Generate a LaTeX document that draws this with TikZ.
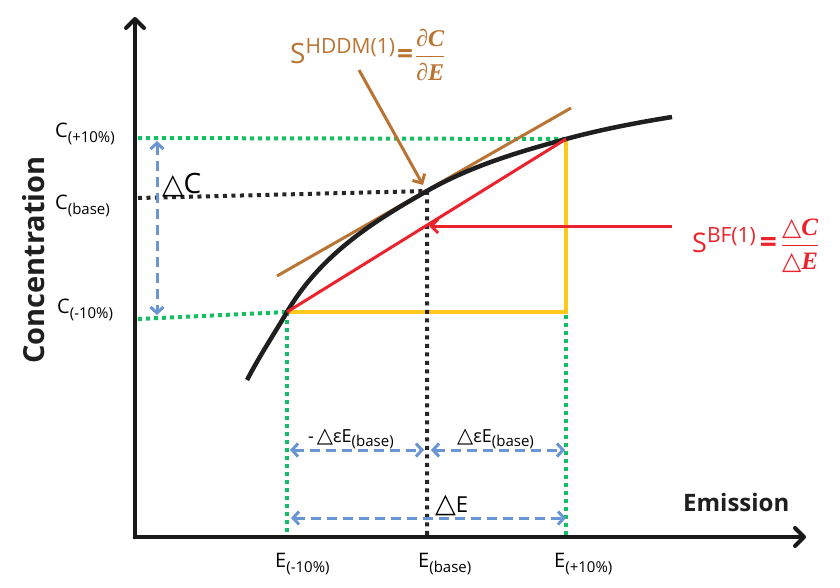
\documentclass[tikz,border=0pt]{standalone}
\usepackage{amsmath}
\usepackage{fontspec}
\setmainfont{Open Sans}
\newfontfamily\sym{DejaVu Sans}
\newfontfamily\ser{Liberation Serif}
\usetikzlibrary{arrows.meta}
\definecolor{cgreen}{RGB}{20,190,100}
\definecolor{cblue}{RGB}{105,150,210}
\definecolor{cbrown}{RGB}{185,115,50}
\definecolor{cred}{RGB}{235,35,45}
\definecolor{cyellow}{RGB}{255,200,30}
\newcommand{\fs}[1]{\fontsize{#1}{#1}\selectfont}
\newcommand{\sbs}[1]{\raisebox{-5pt}{\fs{15}#1}}
\newcommand{\bi}[1]{\mbox{\ser\bfseries\itshape #1}}
\tikzset{
  axis/.style={line width=4pt, draw=black!90, -{Straight Barb[round,length=9pt,width=18pt]}},
  curve/.style={line width=4.5pt, draw=black!88},
  gdot/.style={line width=4pt, draw=cgreen, dash pattern=on 4pt off 4pt},
  kdot/.style={line width=4pt, draw=black!85, dash pattern=on 4pt off 4.5pt},
  bdash/.style={line width=3pt, draw=cblue, dash pattern=on 10pt off 6pt,
     {Straight Barb[length=6pt,width=13pt]}-{Straight Barb[length=6pt,width=13pt]}},
  redl/.style={line width=3pt, draw=cred},
  yell/.style={line width=3.5pt, draw=cyellow},
  brownl/.style={line width=3pt, draw=cbrown},
  lbl/.style={inner sep=0pt, anchor=base west, font=\fs{20}},
}
\begin{document}
\begin{tikzpicture}[x=1pt,y=-1pt]
\useasboundingbox (0,0) rectangle (840,587);
% key points
\coordinate (O) at (135,537);
\coordinate (ytop) at (135,17);
\coordinate (xend) at (806,537);
\coordinate (P0) at (247,380);
\coordinate (Pm) at (287,312);
\coordinate (Pb) at (427,191);
\coordinate (Pp) at (566,139);
\coordinate (P9) at (672,117);
\coordinate (Cp) at (138,138);
\coordinate (Cb) at (138,198);
\coordinate (Cm) at (138,319);
\coordinate (Em) at (287,537);
\coordinate (Eb) at (427,537);
\coordinate (Ep) at (566,537);
\coordinate (Ym) at (566,312);
\coordinate (Tg1) at (277,276);
\coordinate (Tg2) at (571,108);
\coordinate (Ra1) at (672,226);
\coordinate (Ra2) at (429,226);
\coordinate (Ba1) at (359,70);
\coordinate (Ba2) at (423,185);
% green guides
\draw[gdot] (Cp) -- (Pp);
\draw[gdot] (Cm) -- (Pm);
\draw[gdot] (Pm) -- (Em);
\draw[gdot] (Pp) -- (Ep);
% yellow
\draw[yell] (Pm) -- (Ym) -- (Pp);
% black dotted
\draw[kdot] (Cb) -- (Pb) -- (Eb);
% tangent
\draw[brownl] (Tg1) -- (Tg2);
% curve
\draw[curve] (P0) .. controls (261,353.4) and (273,335.8) .. (Pm)
  .. controls (322,252.5) and (377,219.5) .. (Pb)
  .. controls (472,165.4) and (521,151.2) .. (Pp)
  .. controls (601,129.5) and (637,122.6) .. (P9);
% red chord
\draw[redl] (Pm) -- (Pp);
\draw[redl, -{Straight Barb[length=7pt,width=14pt]}] (Ra1) -- (Ra2);
\draw[brownl, -{Straight Barb[length=7pt,width=14pt]}] (Ba1) -- (Ba2);
% blue dashed
\draw[bdash] (157,141) -- (157,315);
\draw[bdash] (290,450) -- (424,450);
\draw[bdash] (431,450) -- (565,450);
\draw[bdash] (291,518) -- (566,518);
% axes
\draw[axis] (O) -- (ytop);
\draw[axis] (133,537) -- (xend);
% labels
\node[lbl] (lcp) at (55,137) {C\sbs{(+10\%)}};
\node[lbl] (lcb) at (55,209) {C\sbs{(base)}};
\node[lbl] (lcm) at (57,313) {C\sbs{(-10\%)}};
\node[lbl] (lem) at (275,567) {E\sbs{(-10\%)}};
\node[lbl] (leb) at (418,567) {E\sbs{(base)}};
\node[lbl] (lep) at (554,567) {E\sbs{(+10\%)}};
\node[lbl, font=\fs{28}] (ldc) at (162,193) {{\sym △}C};
\node[lbl, font=\fs{22}] (lde) at (435,512) {{\sym\fs{27}△}E};
\node[lbl, font=\fs{18}] (ldl) at (308,442) {-\,{\sym\fs{21}△}εE\raisebox{-4pt}{\fs{15}(base)}};
\node[lbl, font=\fs{18}] (ldr) at (457,442) {{\sym\fs{21}△}εE\raisebox{-4pt}{\fs{15}(base)}};
\node[lbl, font=\fs{24}\bfseries, text=black!88] (lx) at (683,511) {Emission};
\node[inner sep=0pt, anchor=base, rotate=90, font=\fs{29}\bfseries, text=black!88] (ly) at (44,260) {Concentration};
\node[lbl, text=cbrown] (lh) at (290,63) {{\fs{28}S}\raisebox{10pt}{\fs{21}HDDM(1)}\kern2pt{\fs{28}\bfseries=}\kern2pt{\fs{24}$\dfrac{\bi{∂C}}{\bi{∂E}}$}};
\node[lbl, text=cred] (lb) at (692,252) {{\fs{27}S}\raisebox{10pt}{\fs{21}BF(1)}\kern4pt{\fs{30}\bfseries=}\kern4pt{\fs{25}$\dfrac{\mbox{\sym △}\bi{C}}{\mbox{\sym △}\bi{E}}$}};
\end{tikzpicture}
\end{document}
